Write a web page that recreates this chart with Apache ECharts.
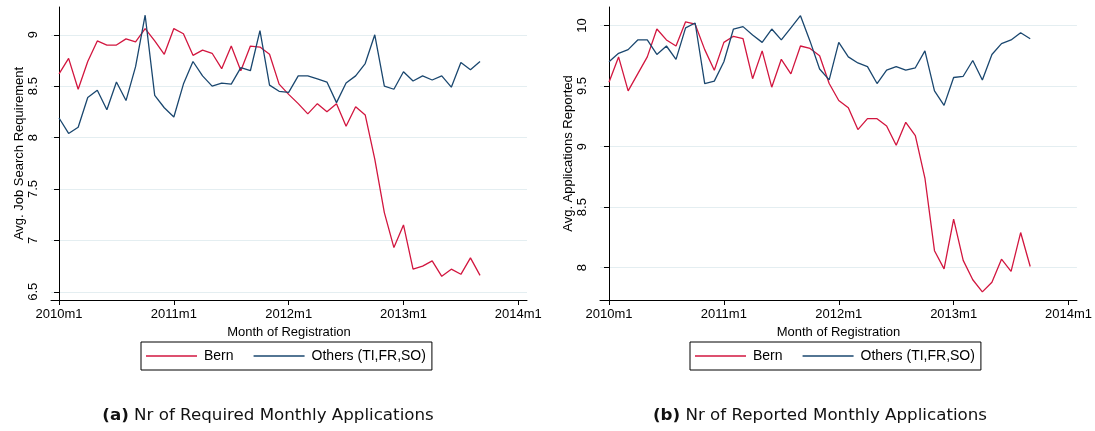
<!DOCTYPE html>
<html>
<head>
<meta charset="utf-8">
<title>Job search requirements and reported applications</title>
<script src="https://cdn.jsdelivr.net/npm/echarts@6/dist/echarts.min.js"></script>
<style>
  html, body { margin: 0; padding: 0; background: #ffffff; }
  #chart { width: 1095px; height: 431px; }
</style>
</head>
<body>
<div id="chart"></div>
<script>
// Monthly averages, 2010m1 .. 2013m9 (45 months)
const seriesNames = ['Bern', 'Others (TI,FR,SO)'];

// Panel (a): average job search requirement
const requiredBern = [
  8.62, 8.77, 8.47, 8.74, 8.94, 8.90, 8.90, 8.96, 8.93, 9.06,
  8.94, 8.81, 9.06, 9.01, 8.80, 8.85, 8.82, 8.67, 8.89, 8.65,
  8.89, 8.88, 8.81, 8.52, 8.42, 8.33, 8.23, 8.33, 8.25, 8.33,
  8.11, 8.30, 8.22, 7.79, 7.27, 6.93, 7.15, 6.72, 6.75, 6.80,
  6.65, 6.72, 6.67, 6.83, 6.66
];
const requiredOthers = [
  8.19, 8.04, 8.10, 8.39, 8.46, 8.27, 8.54, 8.36, 8.69, 9.19,
  8.41, 8.29, 8.20, 8.52, 8.74, 8.60, 8.50, 8.53, 8.52, 8.68,
  8.65, 9.04, 8.51, 8.45, 8.44, 8.60, 8.60, 8.57, 8.54, 8.34,
  8.53, 8.60, 8.72, 9.00, 8.50, 8.47, 8.64, 8.55, 8.60, 8.56,
  8.60, 8.49, 8.73, 8.66, 8.74
];

// Panel (b): average number of applications reported
const reportedBern = [
  9.53, 9.74, 9.46, 9.60, 9.74, 9.97, 9.88, 9.83, 10.03, 10.01,
  9.80, 9.63, 9.86, 9.91, 9.89, 9.56, 9.79, 9.49, 9.72, 9.60,
  9.83, 9.81, 9.75, 9.52, 9.38, 9.32, 9.14, 9.23, 9.23, 9.17,
  9.01, 9.20, 9.09, 8.74, 8.14, 7.99, 8.40, 8.06, 7.90, 7.80,
  7.88, 8.07, 7.97, 8.29, 8.01
];
const reportedOthers = [
  9.70, 9.77, 9.80, 9.88, 9.88, 9.76, 9.83, 9.72, 9.98, 10.02,
  9.52, 9.54, 9.70, 9.97, 9.99, 9.92, 9.86, 9.97, 9.88, 9.98,
  10.08, 9.87, 9.64, 9.55, 9.86, 9.74, 9.69, 9.66, 9.52, 9.63,
  9.66, 9.63, 9.65, 9.79, 9.46, 9.34, 9.57, 9.58, 9.71, 9.55,
  9.76, 9.85, 9.88, 9.94, 9.89
];

// Axis ticks
const xTickMonths = [0, 12, 24, 36, 48];
const xTickLabels = ['2010m1', '2011m1', '2012m1', '2013m1', '2014m1'];
const yTicksA = [6.5, 7, 7.5, 8, 8.5, 9];
const yTicksB = [8, 8.5, 9, 9.5, 10];

const captions = [
  { tag: '(a)', text: 'Nr of Required Monthly Applications' },
  { tag: '(b)', text: 'Nr of Reported Monthly Applications' }
];

const RED = '#d2163f';
const NAVY = '#1a476f';
const GRID_LINE = '#e4eef1';
const AXIS_FONT = '"Liberation Sans", Arial, sans-serif';
const CAPTION_FONT = '"DejaVu Sans", sans-serif';

// month index -> [index, value] pairs
const toPoints = vals => vals.map((v, i) => [i, v]);

function xAxisFor(gridIndex, min, max) {
  return {
    type: 'value', gridIndex, min, max,
    name: 'Month of Registration', nameLocation: 'middle', nameGap: 22,
    nameTextStyle: { color: '#000', fontSize: 13, fontFamily: AXIS_FONT },
    axisLine: { show: true, onZero: false, lineStyle: { color: '#000', width: 1 } },
    axisTick: { show: true, length: 5, customValues: xTickMonths, lineStyle: { color: '#000' } },
    axisLabel: {
      customValues: xTickMonths, margin: 8, color: '#000', fontSize: 13, fontFamily: AXIS_FONT,
      formatter: v => xTickLabels[xTickMonths.indexOf(v)]
    },
    splitLine: { show: false }
  };
}

function yAxisFor(gridIndex, min, max, ticks, title) {
  return {
    type: 'value', gridIndex, min, max,
    name: title, nameLocation: 'middle', nameGap: 25, nameMoveOverlap: false,
    nameTextStyle: { color: '#000', fontSize: 13, fontFamily: AXIS_FONT },
    axisLine: { show: true, lineStyle: { color: '#000', width: 1 } },
    axisTick: { show: true, length: 5, customValues: ticks, lineStyle: { color: '#000' } },
    axisLabel: {
      customValues: ticks, rotate: 90, margin: 11, color: '#000', fontSize: 13, fontFamily: AXIS_FONT,
      formatter: v => String(v)
    },
    splitLine: { show: true, lineStyle: { color: GRID_LINE, width: 1 } }
  };
}

function lineSeries(name, vals, color, idx) {
  return {
    type: 'line', name, data: toPoints(vals),
    xAxisIndex: idx, yAxisIndex: idx,
    symbol: 'none', smooth: false,
    lineStyle: { color, width: 1.3 }, itemStyle: { color },
    animation: false
  };
}

function legendAt(left) {
  return {
    data: seriesNames.map(name => ({ name, icon: 'rect' })),
    left, top: 342, orient: 'horizontal',
    itemWidth: 51, itemHeight: 1.5, itemGap: 20,
    padding: [7, 6, 7, 5],
    borderColor: '#000', borderWidth: 1, borderRadius: 0,
    textStyle: { color: '#000', fontSize: 14, fontFamily: AXIS_FONT, padding: [0, 0, 0, 2] },
    selectedMode: false
  };
}

function captionText(c, x) {
  return {
    type: 'text', x, y: 416,
    style: {
      text: '{t|' + c.tag + '} ' + c.text,
      align: 'center', verticalAlign: 'middle',
      font: '16.7px ' + CAPTION_FONT, fill: '#111',
      rich: { t: { font: 'bold 16.7px ' + CAPTION_FONT, fill: '#111' } }
    }
  };
}

const chart = echarts.init(document.getElementById('chart'), null, { renderer: 'canvas' });
chart.setOption({
  backgroundColor: '#ffffff',
  animation: false,
  grid: [
    { left: 51, top: 7, width: 476, height: 293 },
    { left: 600, top: 7, width: 477, height: 293 }
  ],
  xAxis: [xAxisFor(0, -0.84, 48.91), xAxisFor(1, -0.94, 48.88)],
  yAxis: [
    yAxisFor(0, 6.42, 9.27, yTicksA, 'Avg. Job Search Requirement'),
    yAxisFor(1, 7.733, 10.152, yTicksB, 'Avg. Applications Reported')
  ],
  legend: [legendAt(141), legendAt(690)],
  series: [
    lineSeries(seriesNames[0], requiredBern, RED, 0),
    lineSeries(seriesNames[1], requiredOthers, NAVY, 0),
    lineSeries(seriesNames[0], reportedBern, RED, 1),
    lineSeries(seriesNames[1], reportedOthers, NAVY, 1)
  ],
  graphic: [captionText(captions[0], 268), captionText(captions[1], 820)]
});
</script>
</body>
</html>
